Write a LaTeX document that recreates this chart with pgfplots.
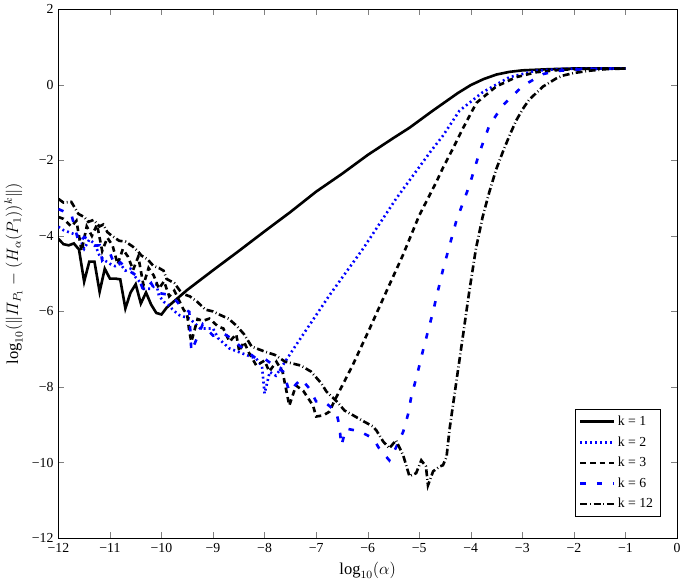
\documentclass[border=0pt]{standalone}
\usepackage{amsmath}
\usepackage{fontspec}
\setmainfont{Liberation Serif}
\usepackage{pgfplots}
\pgfplotsset{compat=1.18}
\definecolor{pblue}{RGB}{0,0,255}
\begin{document}
\begin{tikzpicture}
\begin{axis}[
  scale only axis, width=449pt, height=384pt,
  xmin=-12, xmax=0, ymin=-12, ymax=2,
  xtick={-12,...,0},
  xticklabels={−12,−11,−10,−9,−8,−7,−6,−5,−4,−3,−2,−1,0},
  ytick={-12,-10,...,2},
  yticklabels={−12,−10,−8,−6,−4,−2,0,2},
  tick label style={font=\normalsize},
  label style={font=\large},
  xlabel={$\log_{10}(\alpha)$},
  ylabel={$\log_{10}(\|\varPi_{P_1}-(H_\alpha(P_1))^k\|)$},
  legend style={at={(0.973,0.04)}, anchor=south east, font=\normalsize, cells={anchor=west}, draw=black, row sep=2.5pt, inner sep=3pt},
  legend image code/.code={\draw[#1] (0cm,0cm) -- (0.85cm,0cm);},
  every axis plot/.append style={line width=1.9pt},
]
% k = 1
\addplot[black, solid] coordinates {
(-12,-4.08) (-11.9,-4.22) (-11.8,-4.25) (-11.7,-4.20) (-11.6,-4.36) (-11.5,-5.21) (-11.4,-4.68) (-11.3,-4.68) (-11.2,-5.48) (-11.1,-4.87) (-11.0,-5.13) (-10.9,-5.13) (-10.8,-5.15) (-10.7,-5.92) (-10.6,-5.50) (-10.5,-5.28) (-10.4,-5.79) (-10.3,-5.50) (-10.2,-5.82) (-10.1,-6.04) (-10.0,-6.08) (-9.9,-5.90) (-9.5,-5.43) (-9,-4.91) (-8.5,-4.40) (-8,-3.88) (-7.5,-3.37) (-7,-2.83) (-6.5,-2.36) (-6,-1.86) (-5.5,-1.41) (-5.19,-1.14) (-5,-0.95) (-4.75,-0.70) (-4.5,-0.46) (-4.25,-0.22) (-4,-0.01) (-3.75,0.15) (-3.5,0.27) (-3.25,0.34) (-3,0.38) (-2.5,0.41) (-2,0.43) (-1.5,0.43) (-1,0.43)
};
\addlegendentry{k = 1}
% k = 2
\addplot[pblue, dash pattern=on 1.4pt off 2.2pt] coordinates {
(-12,-3.76) (-11.9,-3.85) (-11.8,-3.90) (-11.7,-3.95) (-11.6,-4.00) (-11.5,-4.34) (-11.4,-4.10) (-11.3,-4.20) (-11.2,-4.53) (-11.1,-4.65) (-11.0,-4.74) (-10.9,-4.80) (-10.8,-4.74) (-10.7,-4.92) (-10.6,-4.87) (-10.5,-5.10) (-10.4,-5.25) (-10.35,-5.40) (-10.2,-5.40) (-10.1,-5.27) (-10.05,-5.58) (-9.95,-5.75) (-9.85,-5.85) (-9.77,-5.97) (-9.65,-6.10) (-9.45,-6.19) (-9.25,-6.45) (-9.0,-6.45) (-8.9,-6.71) (-8.68,-6.98) (-8.45,-7.10) (-8.16,-7.25) (-8.05,-7.45) (-8.0,-8.17) (-7.9,-7.60) (-7.78,-7.70) (-7.39,-6.89) (-6.74,-5.57) (-6.09,-4.34) (-5.45,-3.02) (-5.0,-2.18) (-4.77,-1.75) (-4.54,-1.35) (-4.22,-0.69) (-3.77,-0.20) (-3.25,0.20) (-2.73,0.37) (-2.22,0.42) (-1.5,0.43) (-1,0.43)
};
\addlegendentry{k = 2}
% k = 3
\addplot[black, dash pattern=on 4pt off 3pt] coordinates {
(-12,-3.50) (-11.9,-3.55) (-11.75,-3.75) (-11.65,-3.60) (-11.55,-4.40) (-11.45,-3.75) (-11.35,-4.00) (-11.25,-3.70) (-11.15,-4.40) (-11.05,-4.05) (-10.95,-4.25) (-10.85,-4.75) (-10.75,-4.35) (-10.65,-4.55) (-10.55,-4.90) (-10.45,-4.55) (-10.35,-5.30) (-10.25,-4.85) (-10.15,-5.05) (-10.05,-5.40) (-9.95,-5.20) (-9.85,-5.60) (-9.75,-5.45) (-9.58,-5.93) (-9.5,-6.10) (-9.46,-6.53) (-9.42,-6.80) (-9.3,-6.20) (-9.2,-6.25) (-9.07,-6.19) (-8.9,-6.40) (-8.8,-6.45) (-8.68,-6.80) (-8.55,-6.60) (-8.49,-7.06) (-8.4,-6.80) (-8.3,-7.10) (-8.16,-7.43) (-8.0,-7.30) (-7.91,-7.59) (-7.77,-7.33) (-7.65,-7.60) (-7.52,-8.49) (-7.39,-7.96) (-7.25,-8.10) (-7.06,-8.49) (-7.0,-8.78) (-6.86,-8.75) (-6.74,-8.65) (-6.65,-8.38) (-6.29,-7.42) (-5.96,-6.45) (-5.64,-5.48) (-5.32,-4.52) (-5.0,-3.46) (-4.67,-2.58) (-4.54,-2.20) (-4.35,-1.70) (-4.15,-1.15) (-3.89,-0.48) (-3.51,-0.05) (-3.12,0.20) (-2.73,0.33) (-2.22,0.40) (-1.5,0.43) (-1,0.43)
};
\addlegendentry{k = 3}
% k = 6
\addplot[pblue, dash pattern=on 4pt off 8pt] coordinates {
(-12,-3.29) (-11.9,-3.35) (-11.75,-3.42) (-11.6,-4.20) (-11.5,-4.03) (-11.4,-4.10) (-11.3,-4.26) (-11.2,-4.25) (-11.15,-4.65) (-11.0,-4.45) (-10.9,-4.80) (-10.8,-4.70) (-10.6,-4.95) (-10.45,-5.08) (-10.35,-5.45) (-10.2,-5.25) (-10.1,-5.50) (-9.9,-5.55) (-9.75,-5.66) (-9.6,-5.90) (-9.46,-6.01) (-9.42,-7.06) (-9.2,-6.34) (-9.0,-6.64) (-8.8,-6.58) (-8.6,-6.75) (-8.49,-6.90) (-8.3,-7.10) (-8.16,-7.25) (-8.0,-7.25) (-7.8,-7.45) (-7.64,-7.59) (-7.52,-8.12) (-7.29,-7.78) (-7.13,-8.04) (-7.0,-8.38) (-6.85,-8.38) (-6.61,-8.65) (-6.55,-9.02) (-6.51,-9.55) (-6.42,-9.10) (-6.16,-9.17) (-5.89,-9.36) (-5.78,-9.62) (-5.58,-9.94) (-5.45,-9.60) (-5.31,-9.18) (-5.22,-8.74) (-5.16,-8.30) (-5.0,-7.45) (-4.93,-7.05) (-4.74,-6.05) (-4.54,-4.90) (-4.28,-3.60) (-4.03,-2.68) (-3.83,-1.79) (-3.64,-1.08) (-3.38,-0.55) (-2.99,-0.03) (-2.60,0.28) (-2.35,0.36) (-2,0.40) (-1.5,0.42) (-1,0.43)
};
\addlegendentry{k = 6}
% k = 12
\addplot[black, dash pattern=on 5pt off 2pt on 0.6pt off 2pt] coordinates {
(-12,-3.02) (-11.9,-3.12) (-11.75,-3.10) (-11.61,-3.42) (-11.5,-3.50) (-11.42,-3.63) (-11.32,-3.58) (-11.2,-3.75) (-11.13,-3.70) (-11.05,-3.90) (-10.97,-3.99) (-10.82,-4.13) (-10.7,-4.15) (-10.55,-4.29) (-10.45,-4.42) (-10.39,-4.52) (-10.27,-4.62) (-10.16,-4.79) (-10.05,-4.85) (-9.96,-4.92) (-9.9,-5.14) (-9.75,-5.25) (-9.6,-5.53) (-9.45,-5.60) (-9.3,-5.75) (-9.15,-5.95) (-9.0,-6.00) (-8.85,-6.10) (-8.7,-6.19) (-8.55,-6.37) (-8.4,-6.60) (-8.25,-6.93) (-8.0,-7.06) (-7.8,-7.15) (-7.6,-7.33) (-7.3,-7.43) (-7.1,-7.59) (-6.9,-7.90) (-6.8,-8.12) (-6.6,-8.38) (-6.45,-8.62) (-6.28,-8.75) (-6.09,-8.90) (-5.9,-9.04) (-5.83,-9.15) (-5.70,-9.44) (-5.58,-9.62) (-5.45,-9.41) (-5.31,-9.81) (-5.19,-10.36) (-5.06,-10.28) (-4.96,-9.94) (-4.87,-10.10) (-4.83,-10.60) (-4.73,-10.23) (-4.6,-10.10) (-4.54,-10.07) (-4.47,-9.85) (-4.41,-9.10) (-4.28,-7.86) (-4.15,-6.63) (-4.03,-5.48) (-3.90,-4.34) (-3.77,-3.50) (-3.64,-2.84) (-3.51,-2.25) (-3.37,-1.75) (-3.25,-1.35) (-3.12,-0.95) (-2.99,-0.64) (-2.87,-0.40) (-2.60,-0.05) (-2.35,0.16) (-2.22,0.24) (-2.0,0.31) (-1.70,0.37) (-1.4,0.41) (-1,0.43)
};
\addlegendentry{k = 12}
\end{axis}
\end{tikzpicture}
\end{document}
